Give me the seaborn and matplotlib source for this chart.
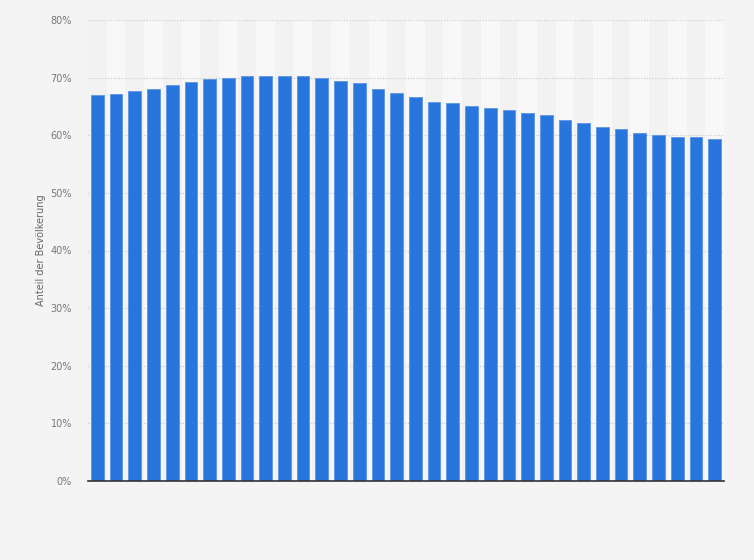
import seaborn as sns
import matplotlib.pyplot as plt
import pandas as pd
from matplotlib.ticker import FuncFormatter

# share of population per year (x labels are not shown in the chart)
years = ["1990", "1991", "1992", "1993", "1994", "1995", "1996", "1997", "1998",
         "1999", "2000", "2001", "2002", "2003", "2004", "2005", "2006", "2007",
         "2008", "2009", "2010", "2011", "2012", "2013", "2014", "2015", "2016",
         "2017", "2018", "2019", "2020", "2021", "2022", "2023"]
share = [66.9, 67.2, 67.6, 68.1, 68.7, 69.2, 69.7, 70.0, 70.2, 70.2, 70.2, 70.2,
         70.0, 69.5, 69.0, 68.1, 67.4, 66.7, 65.8, 65.6, 65.1, 64.8, 64.4, 63.9,
         63.6, 62.7, 62.2, 61.5, 61.0, 60.4, 60.1, 59.7, 59.7, 59.4]
y_label = "Anteil der Bevölkerung"

BG = "#f4f4f4"
BAR = "#2876dd"

df = pd.DataFrame({"Jahr": years, "Anteil": share})

sns.set_style("white")
plt.rcParams['font.family'] = ['DejaVu Sans']

fig = plt.figure(figsize=(7.54, 5.6), dpi=100, facecolor=BG)
ax = fig.add_axes([88 / 754, 79 / 560, 636 / 754, 461 / 560])
ax.set_facecolor(BG)

# alternating column shading
for i in range(len(years)):
    ax.axvspan(i - 0.5, i + 0.5, color="#f2f2f2" if i % 2 == 0 else "#f8f8f8",
               zorder=0, lw=0)

sns.barplot(data=df, x="Jahr", y="Anteil", color=BAR, width=0.68, saturation=1,
            edgecolor="#5b95e6", linewidth=0.6, ax=ax, zorder=3)

ax.set_xlim(-0.5, len(years) - 0.5)
ax.set_ylim(0, 80)
ax.set_yticks(range(0, 81, 10))
ax.yaxis.set_major_formatter(FuncFormatter(lambda v, p: f"{v:.0f}%"))
ax.grid(axis="y", color="#c8c8c8", linestyle=(0, (1, 1.5)), linewidth=0.8, zorder=1)
for gl in ax.get_ygridlines():
    gl.set_zorder(1)

ax.set_xticks([])
ax.set_xlabel("")
ax.set_ylabel(y_label, fontsize=7, color="#666666", labelpad=3)
ax.tick_params(axis="y", length=0, labelsize=7, labelcolor="#777777", pad=11.5)
for s in ["top", "right", "left"]:
    ax.spines[s].set_visible(False)
ax.spines["bottom"].set_color("#333333")
ax.spines["bottom"].set_linewidth(1.2)
ax.spines["bottom"].set_zorder(5)

plt.savefig("out.png", dpi=100, facecolor=BG)
